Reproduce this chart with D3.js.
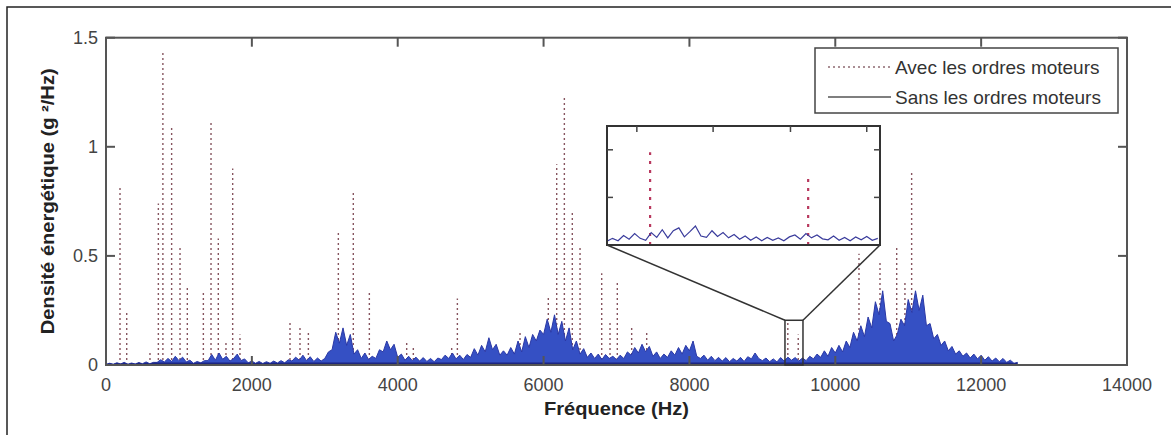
<!DOCTYPE html>
<html><head><meta charset="utf-8">
<script src="https://cdn.jsdelivr.net/npm/d3@7"></script>
<style>
body{margin:0;background:#fff}
svg{display:block}
text{font-family:"Liberation Sans",Arial,sans-serif}
</style>
</head><body>
<svg id="c" width="1171" height="435"></svg>
<script>
// ---------- data ----------
const xTicks = [0, 2000, 4000, 6000, 8000, 10000, 12000, 14000];
const xTickLabels = ["0", "2000", "4000", "6000", "8000", "10000", "12000", "14000"];
const yTicks = [0, 0.5, 1, 1.5];
const yTickLabels = ["0", "0.5", "1", "1.5"];
const seriesNames = ["Avec les ordres moteurs", "Sans les ordres moteurs"];
const xLabel = "Fréquence (Hz)";
const yLabel = "Densité énergétique (g ²/Hz)";

// "Avec les ordres moteurs": engine-order peaks (frequency Hz, PSD g²/Hz)
const avecFreq = [192, 284, 603, 718, 780, 900, 1015, 1115, 1335, 1440, 1540, 1645, 1737, 1837,
  2523, 2660, 2775, 3186, 3391, 3611, 4123, 4214, 4740, 4818, 5677, 6065, 6180, 6285, 6394, 6500,
  6797, 6911, 7011, 7208, 7414, 9349, 9492, 10325, 10613, 10842, 10955, 11047];
const avecVal = [0.825, 0.245, 0.06, 0.74, 1.43, 1.09, 0.55, 0.36, 0.34, 1.12, 0.58, 0.11, 0.90, 0.14,
  0.20, 0.175, 0.16, 0.61, 0.80, 0.34, 0.11, 0.09, 0.09, 0.305, 0.16, 0.32, 0.92, 1.23, 0.70, 0.55,
  0.42, 0.20, 0.39, 0.18, 0.16, 0.195, 0.14, 0.51, 0.48, 0.54, 0.39, 0.88];

// "Sans les ordres moteurs": spectrum sampled every 50 Hz from 0 Hz
const sansStep = 50;
const sansVal = [
  0.003,0.008,0.004,0.010,0.005,0.012,0.004,0.009,0.005,0.011,0.006,0.014,0.006,0.012,
  0.012,0.024,0.014,0.030,0.016,0.040,0.020,0.036,0.014,0.022,
  0.008,0.016,0.010,0.020,
  0.020,0.048,0.022,0.055,0.026,0.040,0.018,
  0.030,0.050,0.020,0.028,
  0.010,0.018,0.008,0.016,0.007,0.015,0.008,0.018,0.009,0.020,0.010,0.024,
  0.018,0.036,0.022,0.045,0.020,0.038,0.016,0.032,0.018,
  0.030,0.060,0.070,0.150,0.100,0.170,0.090,0.140,0.050,0.070,
  0.030,0.055,0.025,0.040,0.030,0.070,
  0.060,0.110,0.070,0.095,
  0.035,0.050,0.022,0.040,0.020,0.036,0.018,0.034,0.016,0.030,0.015,0.032,
  0.025,0.045,0.030,0.055,0.028,0.045,0.025,0.048,
  0.035,0.075,0.045,0.090,0.060,0.125,0.070,0.095,0.045,0.065,
  0.045,0.080,0.050,0.110,0.060,0.130,0.080,0.140,0.110,0.160,
  0.140,0.210,0.150,0.230,0.140,0.200,0.110,0.170,0.070,0.110,
  0.050,0.075,0.035,0.055,0.030,0.050,0.025,0.048,0.030,0.040,
  0.025,0.045,0.030,0.060,0.045,0.080,0.055,0.095,
  0.060,0.085,0.040,0.060,0.030,0.050,
  0.035,0.065,0.045,0.080,0.050,0.090,0.065,0.110,0.040,
  0.030,0.045,0.022,0.040,0.020,0.035,0.018,0.034,0.015,0.030,0.018,0.035,0.016,0.038,0.028,0.055,0.030,
  0.020,0.032,0.015,0.028,0.014,0.034,0.018,0.036,0.022,0.034,0.018,0.032,0.020,0.040,0.028,0.050,
  0.035,0.065,0.040,0.080,0.055,0.090,0.060,0.110,0.080,
  0.150,0.110,0.180,0.130,0.220,0.170,0.290,0.230,0.340,0.200,0.190,0.110,
  0.140,0.210,0.180,0.300,0.240,0.340,0.250,0.320,0.180,0.190,
  0.120,0.140,0.090,0.110,0.065,0.085,0.050,0.065,0.040,0.055,0.032,0.050,0.028,0.045,
  0.022,0.038,0.018,0.032,0.015,0.030,0.012,0.022,0.008,0.012
];

// zoomed window (inset): frequency range and PSD range of the marked rectangle
const zoomFreq = [9310, 9557];
const zoomPsd = [0, 0.205];
const insetPsdDomain = [0, 0.25];
const insetXTicks = [9337, 9406, 9476, 9545];
const insetYTicks = [0.1, 0.2];
// "Sans" detail inside the inset, sampled every 5 Hz from 9310 Hz
const insetStep = 5;
const insetSansVal = [
  0.008,0.014,0.009,0.020,0.012,0.024,0.014,0.010,0.026,0.016,
  0.032,0.015,0.030,0.036,0.017,0.028,0.040,0.019,0.016,0.030,
  0.018,0.026,0.015,0.022,0.012,0.019,0.010,0.017,0.009,0.016,
  0.010,0.015,0.009,0.017,0.021,0.012,0.024,0.015,0.021,0.013,
  0.011,0.019,0.010,0.016,0.009,0.017,0.011,0.018,0.010,0.014
];

// ---------- drawing ----------
const svg = d3.select("#c");
const W = 1171, H = 435;
const m = {left: 106, right: 1127, top: 37.7, bottom: 365};
const x = d3.scaleLinear([0, 14000], [m.left, m.right]);
const y = d3.scaleLinear([0, 1.5], [m.bottom, m.top]);

svg.append("rect").attr("width", W).attr("height", H).attr("fill", "#fff");
// outer figure frame (only top and left edges visible in the picture)
svg.append("rect").attr("x", 7).attr("y", 7).attr("width", W + 20).attr("height", H + 20)
  .attr("fill", "none").attr("stroke", "#222").attr("stroke-width", 1.5);

const sans = sansVal.map((v, i) => ({f: i * sansStep, v}));
const avec = avecFreq.map((f, i) => ({f, v: avecVal[i]}));

svg.append("defs").append("clipPath").attr("id", "plotclip")
  .append("rect").attr("x", m.left).attr("y", m.top).attr("width", m.right - m.left).attr("height", m.bottom - m.top);

const plot = svg.append("g").attr("clip-path", "url(#plotclip)");

// Avec: dotted peaks
plot.append("g").selectAll("line").data(avec).join("line")
  .attr("x1", d => x(d.f)).attr("x2", d => x(d.f))
  .attr("y1", y(0)).attr("y2", d => y(d.v))
  .attr("stroke", "#86555f").attr("stroke-width", 1.4)
  .attr("stroke-dasharray", "2,3");

// Sans: dense blue spectrum
plot.append("path").datum(sans)
  .attr("d", d3.area().x(d => x(d.f)).y0(y(0)).y1(d => y(d.v)))
  .attr("fill", "#3550c4");
plot.append("path").datum(sans)
  .attr("d", d3.line().x(d => x(d.f)).y(d => y(d.v)))
  .attr("fill", "none").attr("stroke", "#2a38a6").attr("stroke-width", 1);
// dark baseline band of the spectrum
plot.append("path").datum(sans)
  .attr("d", d3.area().x(d => x(d.f)).y0(y(0)).y1(d => y(Math.min(d.v, 0.012))))
  .attr("fill", "#1c2580");

// axes box
const axCol = "#555";
svg.append("rect").attr("x", m.left).attr("y", m.top)
  .attr("width", m.right - m.left).attr("height", m.bottom - m.top)
  .attr("fill", "none").attr("stroke", axCol).attr("stroke-width", 2);

const tl = 9;
const xt = svg.append("g");
xTicks.forEach((t, i) => {
  xt.append("line").attr("x1", x(t)).attr("x2", x(t)).attr("y1", m.bottom).attr("y2", m.bottom - tl)
    .attr("stroke", axCol).attr("stroke-width", 2);
  xt.append("line").attr("x1", x(t)).attr("x2", x(t)).attr("y1", m.top).attr("y2", m.top + tl)
    .attr("stroke", axCol).attr("stroke-width", 2);
  xt.append("text").attr("x", x(t)).attr("y", 391).attr("text-anchor", "middle")
    .attr("font-size", 18).attr("fill", "#444").text(xTickLabels[i]);
});
const yt = svg.append("g");
yTicks.forEach((t, i) => {
  yt.append("line").attr("x1", m.left).attr("x2", m.left + tl).attr("y1", y(t)).attr("y2", y(t))
    .attr("stroke", axCol).attr("stroke-width", 2);
  yt.append("line").attr("x1", m.right).attr("x2", m.right - tl).attr("y1", y(t)).attr("y2", y(t))
    .attr("stroke", axCol).attr("stroke-width", 2);
  yt.append("text").attr("x", 98).attr("y", y(t)).attr("dy", "0.36em").attr("text-anchor", "end")
    .attr("font-size", 18).attr("fill", "#444").text(yTickLabels[i]);
});

// axis labels
svg.append("text").attr("x", (m.left + m.right) / 2).attr("y", 415).attr("text-anchor", "middle")
  .attr("font-size", 18).attr("font-weight", "bold").attr("fill", "#222")
  .attr("textLength", 145).attr("lengthAdjust", "spacingAndGlyphs").text(xLabel);
svg.append("text").attr("transform", `translate(54,${(m.top + m.bottom) / 2}) rotate(-90)`)
  .attr("text-anchor", "middle").attr("font-size", 18).attr("font-weight", "bold").attr("fill", "#222")
  .attr("textLength", 266).attr("lengthAdjust", "spacingAndGlyphs").text(yLabel);

// zoom rectangle on main axes
const zx0 = x(zoomFreq[0]), zx1 = x(zoomFreq[1]), zy0 = y(zoomPsd[0]), zy1 = y(zoomPsd[1]);
svg.append("rect").attr("x", zx0).attr("y", zy1).attr("width", zx1 - zx0).attr("height", zy0 - zy1)
  .attr("fill", "none").attr("stroke", "#333").attr("stroke-width", 1.5);

// inset
const ins = {left: 607, right: 880, top: 126, bottom: 245};
const ix = d3.scaleLinear(zoomFreq, [ins.left, ins.right]);
const iy = d3.scaleLinear(insetPsdDomain, [ins.bottom, ins.top]);

svg.append("line").attr("x1", ins.left).attr("y1", ins.bottom).attr("x2", zx0).attr("y2", zy1)
  .attr("stroke", "#333").attr("stroke-width", 1.5);
svg.append("line").attr("x1", ins.right).attr("y1", ins.bottom).attr("x2", zx1).attr("y2", zy1)
  .attr("stroke", "#333").attr("stroke-width", 1.5);

svg.append("rect").attr("x", ins.left).attr("y", ins.top)
  .attr("width", ins.right - ins.left).attr("height", ins.bottom - ins.top).attr("fill", "#fff");
svg.select("defs").append("clipPath").attr("id", "insclip")
  .append("rect").attr("x", ins.left).attr("y", ins.top).attr("width", ins.right - ins.left).attr("height", ins.bottom - ins.top);
const ig = svg.append("g").attr("clip-path", "url(#insclip)");
const avecIn = avec.filter(d => d.f >= zoomFreq[0] && d.f <= zoomFreq[1]);
ig.selectAll("line").data(avecIn).join("line")
  .attr("x1", d => ix(d.f)).attr("x2", d => ix(d.f))
  .attr("y1", iy(0)).attr("y2", d => iy(d.v))
  .attr("stroke", "#b8385e").attr("stroke-width", 2.2).attr("stroke-dasharray", "3,6");
const insetSans = insetSansVal.map((v, i) => ({f: zoomFreq[0] + i * insetStep, v}));
ig.append("path").datum(insetSans)
  .attr("d", d3.line().x(d => ix(d.f)).y(d => iy(d.v)))
  .attr("fill", "none").attr("stroke", "#3a3c9c").attr("stroke-width", 1.2);

svg.append("rect").attr("x", ins.left).attr("y", ins.top)
  .attr("width", ins.right - ins.left).attr("height", ins.bottom - ins.top)
  .attr("fill", "none").attr("stroke", "#333").attr("stroke-width", 2);
const itl = 6;
insetXTicks.forEach(t => {
  svg.append("line").attr("x1", ix(t)).attr("x2", ix(t)).attr("y1", ins.top).attr("y2", ins.top + itl)
    .attr("stroke", "#444").attr("stroke-width", 1.5);
});
insetYTicks.forEach(t => {
  svg.append("line").attr("x1", ins.left).attr("x2", ins.left + itl).attr("y1", iy(t)).attr("y2", iy(t))
    .attr("stroke", "#444").attr("stroke-width", 1.5);
  svg.append("line").attr("x1", ins.right).attr("x2", ins.right - itl).attr("y1", iy(t)).attr("y2", iy(t))
    .attr("stroke", "#444").attr("stroke-width", 1.5);
});

// legend
const lg = svg.append("g");
lg.append("rect").attr("x", 815).attr("y", 48).attr("width", 303).attr("height", 65)
  .attr("fill", "#fff").attr("stroke", "#444").attr("stroke-width", 1.5);
const legY = [67, 97];
seriesNames.forEach((name, i) => {
  lg.append("line").attr("x1", 828).attr("x2", 891).attr("y1", legY[i]).attr("y2", legY[i])
    .attr("stroke", i === 0 ? "#8e6a72" : "#555").attr("stroke-width", 1.3)
    .attr("stroke-dasharray", i === 0 ? "2,3" : null);
  lg.append("text").attr("x", 895).attr("y", legY[i]).attr("dy", "0.36em")
    .attr("font-size", 19).attr("fill", "#333").text(name);
});
</script>
</body></html>
